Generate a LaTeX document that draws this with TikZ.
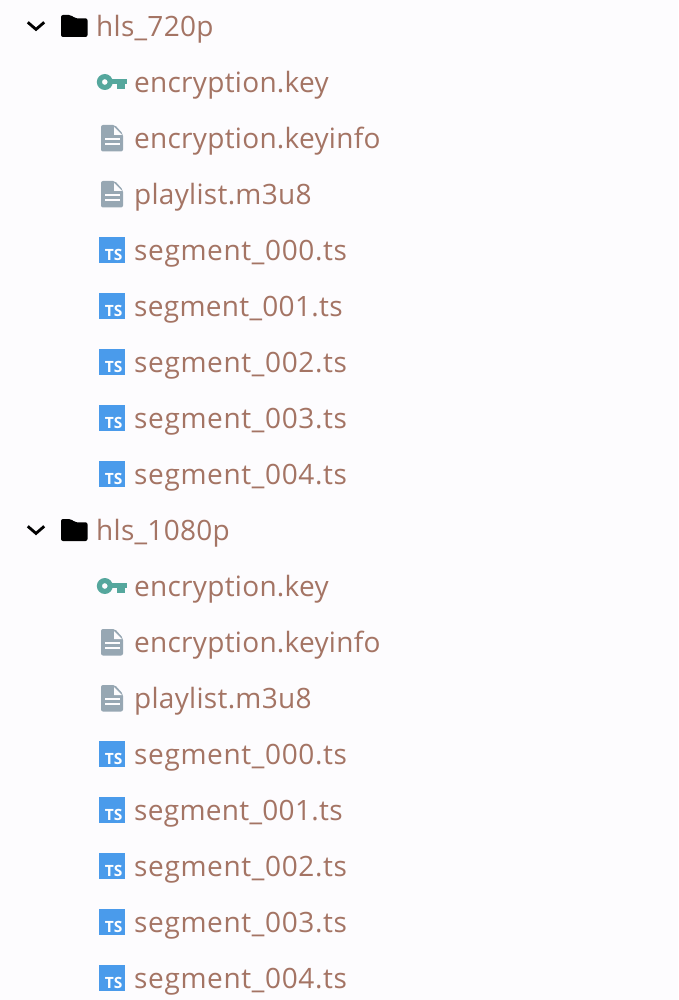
\documentclass[tikz,border=0pt]{standalone}
\usepackage{fontspec}
\setmainfont{Open Sans}
\definecolor{bgc}{HTML}{FDFCFE}
\definecolor{labelc}{HTML}{A47464}
\definecolor{keyc}{HTML}{55A79D}
\definecolor{docc}{HTML}{97A7B3}
\definecolor{tsc}{HTML}{4A9BEB}
\newcommand{\trk}[1]{\addfontfeature{LetterSpace=#1}}
\tikzset{x=1pt,y=-1pt,
 lbl/.style={anchor=base west,inner sep=0pt,yshift=-0.8pt,text=labelc,font=\fontsize{28}{30}\selectfont\trk{1}},
 seglbl/.style={lbl,font=\fontsize{28}{30}\selectfont\trk{2.3}},
 narrowlbl/.style={lbl,font=\fontsize{28}{30}\selectfont\trk{1.1}},
 tstext/.style={anchor=base,inner sep=0pt,text=white,font=\fontsize{15.5}{16}\bfseries\selectfont}}
\newcommand{\chevicon}[1]{\draw[black,line width=2.8pt,line join=miter] (27.8,#1-3.7) -- (36,#1+3.4) -- (44.2,#1-3.7);}
\newcommand{\foldericon}[1]{\fill[black,rounded corners=2pt] (61,#1-11) -- (71,#1-11) -- (75,#1-7.7) -- (87.5,#1-7.7) -- (87.5,#1+11) -- (61,#1+11) -- cycle;}
\newcommand{\keyicon}[1]{%
 \fill[keyc,even odd rule] (104.8,#1) circle (8) (104.8,#1) circle (2.9);
 \fill[keyc] (111,#1-3) rectangle (127.3,#1+2.3);
 \fill[keyc] (117.3,#1) rectangle (124.5,#1+7);}
\newcommand{\docicon}[1]{%
 \fill[docc,rounded corners=2pt] (101,#1-13) -- (115,#1-13) -- (123,#1-4) -- (123,#1+13.5) -- (101,#1+13.5) -- cycle;
 \fill[bgc] (114,#1-11) -- (114,#1-3) -- (122,#1-3) -- cycle;
 \fill[bgc] (104.5,#1) rectangle (119.5,#1+2);
 \fill[bgc] (104.5,#1+4.7) rectangle (119.5,#1+6.7);}
\newcommand{\tsicon}[2]{%
 \fill[tsc] (99,#1-13) rectangle (125,#1+13);
 \node[tstext] (#2) at (113.7,#1+10.7) {TS};}
\begin{document}
\begin{tikzpicture}
\useasboundingbox (0,0) rectangle (678,1000);
\fill[bgc] (0,0) rectangle (678,1000);
% first group
\chevicon{26}\foldericon{26}
\node[lbl] (f1) at (96,35.5) {hls\_720p};
\keyicon{82}\node[lbl] (a1) at (134,91.5) {encryption.key};
\docicon{138}\node[lbl] (a2) at (134,147.5) {encryption.keyinfo};
\docicon{194}\node[lbl] (a3) at (134,203.5) {playlist.m3u8};
\tsicon{250}{ta4}\node[seglbl] (a4) at (134,259.5) {segment\_000.ts};
\tsicon{306}{ta5}\node[narrowlbl] (a5) at (134,315.5) {segment\_001.ts};
\tsicon{362}{ta6}\node[seglbl] (a6) at (134,371.5) {segment\_002.ts};
\tsicon{418}{ta7}\node[seglbl] (a7) at (134,427.5) {segment\_003.ts};
\tsicon{474}{ta8}\node[seglbl] (a8) at (134,483.5) {segment\_004.ts};
% second group
\chevicon{530}\foldericon{530}
\node[lbl] (f2) at (96,539.5) {hls\_1080p};
\keyicon{586}\node[lbl] (b1) at (134,595.5) {encryption.key};
\docicon{642}\node[lbl] (b2) at (134,651.5) {encryption.keyinfo};
\docicon{698}\node[lbl] (b3) at (134,707.5) {playlist.m3u8};
\tsicon{754}{tb4}\node[seglbl] (b4) at (134,763.5) {segment\_000.ts};
\tsicon{810}{tb5}\node[narrowlbl] (b5) at (134,819.5) {segment\_001.ts};
\tsicon{866}{tb6}\node[seglbl] (b6) at (134,875.5) {segment\_002.ts};
\tsicon{922}{tb7}\node[seglbl] (b7) at (134,931.5) {segment\_003.ts};
\tsicon{978}{tb8}\node[seglbl] (b8) at (134,987.5) {segment\_004.ts};
\end{tikzpicture}
\end{document}
